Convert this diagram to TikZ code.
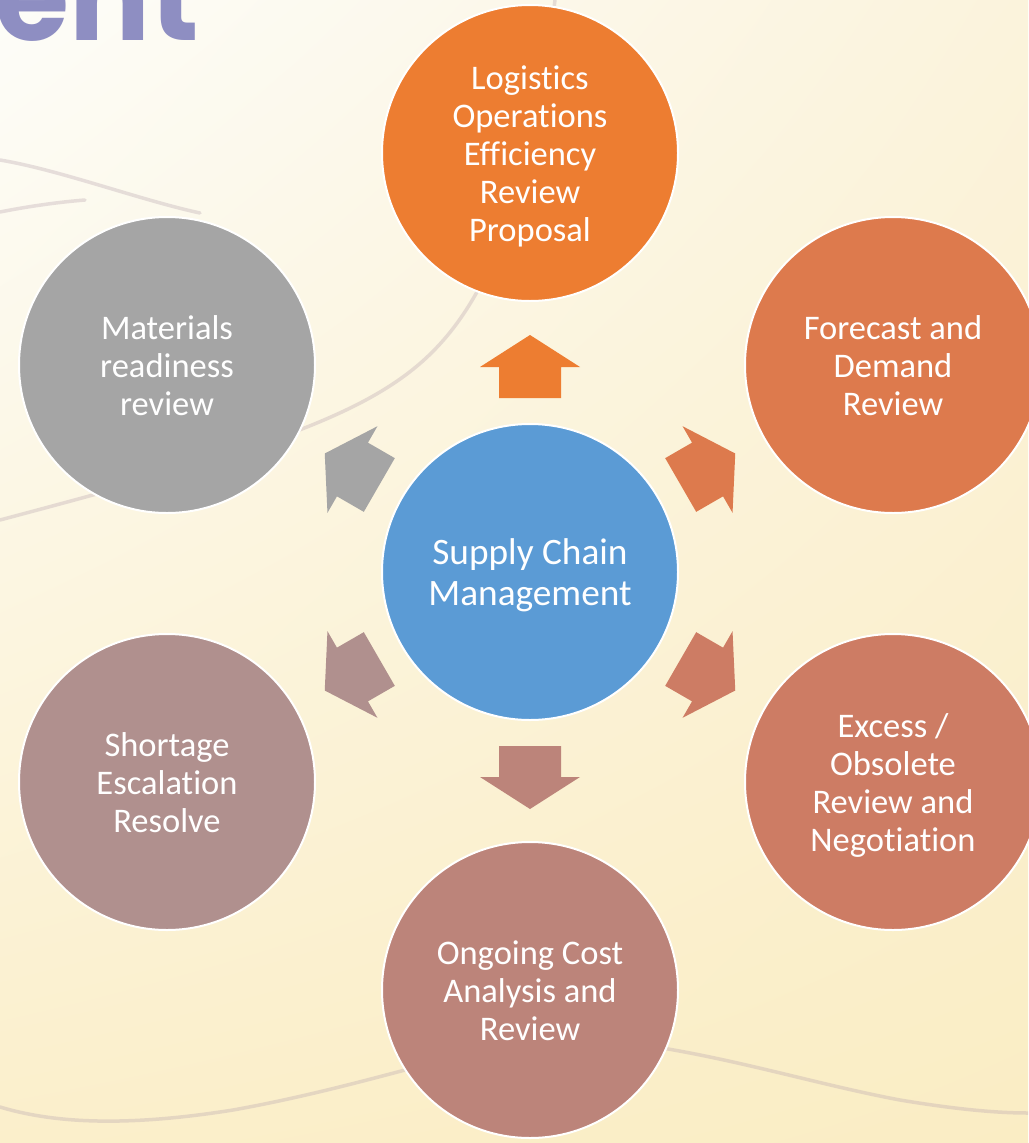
\documentclass[tikz,border=0pt]{standalone}
\usepackage{fontspec}
\usetikzlibrary{shadings}
\setmainfont{Carlito}[Ligatures=NoCommon]
\newfontfamily\titlefont{Poppins}
\definecolor{cTop}{HTML}{ED7D31}
\definecolor{cRT}{HTML}{DD7A4D}
\definecolor{cRB}{HTML}{CD7C64}
\definecolor{cBot}{HTML}{BC847A}
\definecolor{cLB}{HTML}{B0908E}
\definecolor{cLT}{HTML}{A5A5A5}
\definecolor{cMid}{HTML}{5B9BD5}
\definecolor{cTitle}{HTML}{8E8EC2}
\definecolor{bgUL}{HTML}{FDFDF9}
\definecolor{bgUR}{HTML}{FBF3DC}
\definecolor{bgLL}{HTML}{FBEFCB}
\definecolor{bgLR}{HTML}{FAEDC4}
\definecolor{cCurve}{HTML}{B8A4AE}
\tikzset{
  circ/.style={circle, minimum size=296pt, inner sep=0pt, draw=white, line width=2pt},
  ctext/.style={text=white, align=center, inner sep=0pt, font=\fontsize{34.5}{38}\selectfont},
  midtext/.style={ctext, font=\fontsize{37.3}{41}\selectfont},
  bgcurve/.style={draw=cCurve, line width=3.5pt, opacity=0.33, line cap=round}
}
\newcommand{\blockarr}[2]{%
  \begin{scope}[shift={(530,572)}, rotate=#1]
    \fill[#2] (174,-31) -- (205,-31) -- (205,-50) -- (237,0) -- (205,50) -- (205,31) -- (174,31) -- cycle;
  \end{scope}}
\newcommand{\circnode}[5]{% name, fill, x, y, text
  \node[circ, fill=#2] (#1) at (#3,#4) {};
  \node[ctext] (#1-t) at ([yshift=-5pt]#1.center) {\strut#5\strut};}
\begin{document}
\begin{tikzpicture}[x=1pt, y=-1pt]
\useasboundingbox (0,0) rectangle (1028,1143);
\shade[upper left=bgUL, upper right=bgUR, lower left=bgLL, lower right=bgLR] (0,0) rectangle (1028,1143);
\begin{scope}
\clip (0,0) rectangle (1028,1143);
% faint background curves
\draw[bgcurve] (0,160) .. controls (60,170) and (140,200) .. (200,213);
\draw[bgcurve] (0,212) .. controls (30,206) and (60,202) .. (85,200);
\draw[bgcurve] (0,520) .. controls (150,480) and (300,440) .. (380,392) .. controls (450,350) and (520,280) .. (555,0);
\draw[bgcurve] (0,1107) .. controls (50,1122) and (120,1128) .. (233,1110) .. controls (300,1098) and (360,1082) .. (420,1066);
\draw[bgcurve] (650,1046) .. controls (740,1060) and (820,1085) .. (900,1100) .. controls (960,1110) and (1000,1113) .. (1028,1113);
% title fragment
\node[anchor=base east, inner sep=0pt, text=cTitle, font=\titlefont\bfseries\fontsize{120}{120}\selectfont] (title) at (199,40) {ent};
\end{scope}
% arrows
\blockarr{90}{cTop}
\blockarr{30}{cRT}
\blockarr{-30}{cRB}
\blockarr{-90}{cBot}
\blockarr{-150}{cLB}
\blockarr{150}{cLT}
% circles
\node[circ, fill=cMid] (mid) at (530,572) {};
\node[midtext] (mid-t) at ([yshift=-5pt]mid.center) {\strut Supply Chain\\Management\strut};
\circnode{top}{cTop}{530}{153}{Logistics\\Operations\\Efficiency\\Review\\Proposal}
\circnode{rt}{cRT}{893}{365}{Forecast and\\Demand\\Review}
\circnode{rb}{cRB}{893}{782}{Excess /\\Obsolete\\Review and\\Negotiation}
\circnode{bot}{cBot}{530}{990}{Ongoing Cost\\Analysis and\\Review}
\circnode{lb}{cLB}{167}{782}{Shortage\\Escalation\\Resolve}
\circnode{lt}{cLT}{167}{365}{Materials\\readiness\\review}
\end{tikzpicture}
\end{document}
